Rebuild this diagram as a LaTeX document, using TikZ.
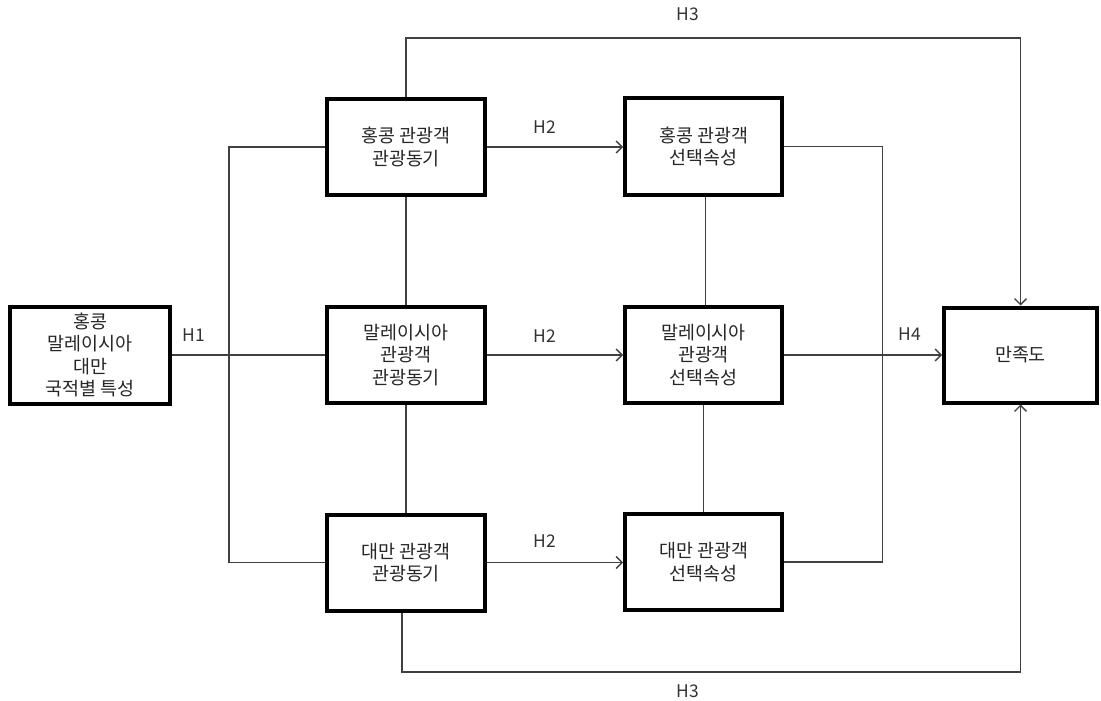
\documentclass[tikz,border=0pt]{standalone}
\usepackage{fontspec}
\setmainfont{Noto Sans CJK KR}
\usetikzlibrary{arrows.meta}
\tikzset{
  box/.style={draw=black, line width=4bp, fill=white, inner sep=0pt, align=center,
    minimum width=157bp, minimum height=96bp, text=black!85,
    font=\fontsize{18.5}{22.5}\selectfont},
  conn/.style={draw=black!75, line width=1.3bp},
  arr/.style={conn, -{Straight Barb[length=6bp,width=12bp]}},
  lbl/.style={inner sep=0pt, font=\fontsize{17.5}{20}\selectfont, text=black!80}
}
\begin{document}
\begin{tikzpicture}[x=1bp,y=-1bp]
\useasboundingbox[fill=white] (0,0) rectangle (1101,701);
% boxes
\node[box, minimum width=160bp, minimum height=97bp] (L) at (90,355) {홍콩\\말레이시아\\대만\\국적별 특성};
\node[box, minimum width=158bp] (M1) at (406,147) {홍콩 관광객\\관광동기};
\node[box, minimum width=158bp] (M2) at (406,355) {말레이시아\\관광객\\관광동기};
\node[box, minimum width=158bp] (M3) at (406,562.5) {대만 관광객\\관광동기};
\node[box] (A1) at (703.5,146.5) {홍콩 관광객\\선택속성};
\node[box] (A2) at (703.5,355) {말레이시아\\관광객\\선택속성};
\node[box] (A3) at (703.5,562) {대만 관광객\\선택속성};
\node[box, minimum width=153bp, minimum height=95bp] (S) at (1020.5,355) {만족도};
% helper coordinates
\coordinate (lbus) at (229,355);
\coordinate (rbus) at (882.5,355);
\coordinate (topy) at (0,38);
\coordinate (boty) at (0,672);
% connectors
\draw[conn] (L.east) -- (M2.west);
\draw[conn] (M1.west) -| (lbus) |- (M3.west);
\draw[arr] (M1.east) -- (A1.west |- M1.east);
\draw[arr] (M2.east) -- (A2.west |- M2.east);
\draw[arr] (M3.east) -- (A3.west |- M3.east);
\draw[conn] (M1.south) -- (M2.north);
\draw[conn] (M2.south) -- (M3.north);
\draw[conn] ([xshift=2bp]A1.south) -- ([xshift=2bp]A2.north);
\draw[conn] (A2.south) -- (A3.north);
\draw[conn] (A1.east) -| (rbus) |- (A3.east);
\draw[arr] (A2.east) -- (S.west |- A2.east);
\draw[arr] (M1.north) -- (M1.north |- topy) -| (S.north);
\draw[arr] ([xshift=-4bp]M3.south) |- (S.south |- boty) -- (S.south);
% labels
\node[lbl] (h1) at (194,335) {H1};
\node[lbl] (h2a) at (545,127) {H2};
\node[lbl] (h2b) at (545,336) {H2};
\node[lbl] (h2c) at (545,541) {H2};
\node[lbl] (h3a) at (688,14) {H3};
\node[lbl] (h4) at (910,334) {H4};
\node[lbl] (h3b) at (688,691) {H3};
\end{tikzpicture}
\end{document}
